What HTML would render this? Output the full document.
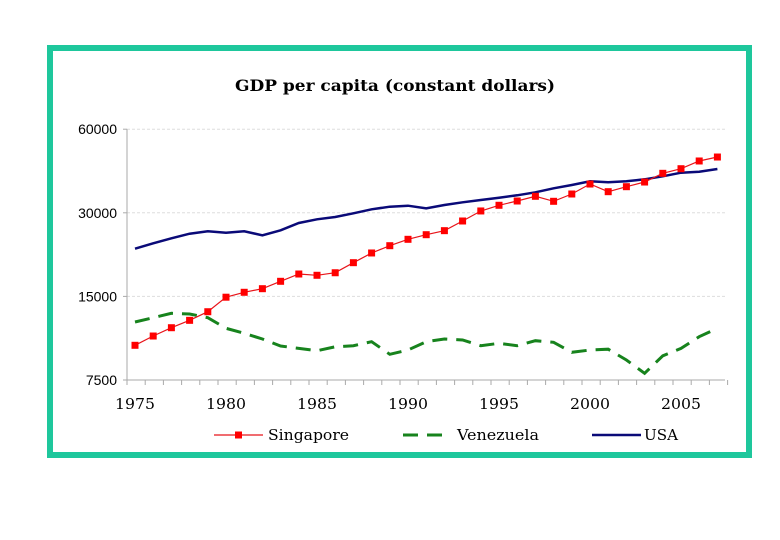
<!DOCTYPE html>
<html><head><meta charset="utf-8"><style>
body{margin:0;background:#fff;width:780px;height:540px;overflow:hidden}
svg{display:block}
</style></head><body>
<svg id="chart" width="780" height="540" xmlns="http://www.w3.org/2000/svg">
<rect x="50" y="48" width="699" height="407" fill="#fff" stroke="#1ec79c" stroke-width="6"/>
<text x="395" y="91" text-anchor="middle" font-family="DejaVu Serif, serif" font-weight="bold" font-size="16" textLength="320" lengthAdjust="spacingAndGlyphs">GDP per capita (constant dollars)</text>
<g id="grid"></g><g id="axes"></g><g id="series"></g>
<g font-family="DejaVu Serif, serif" font-size="15">
<g><line x1="214" y1="435" x2="263" y2="435" stroke="#e8141a" stroke-width="1.2"/><rect x="235" y="431.5" width="7" height="7" fill="#f00"/><text x="268" y="440" textLength="81" lengthAdjust="spacingAndGlyphs">Singapore</text></g>
<g><line x1="403" y1="435" x2="447" y2="435" stroke="#17831d" stroke-width="3" stroke-dasharray="15,9"/><text x="457" y="440" textLength="82" lengthAdjust="spacingAndGlyphs">Venezuela</text></g>
<g><line x1="592" y1="435" x2="641" y2="435" stroke="#0a0a78" stroke-width="2.5"/><text x="644" y="440" textLength="34" lengthAdjust="spacingAndGlyphs">USA</text></g>
</g>
</svg>
<script>
const years=[1975,1976,1977,1978,1979,1980,1981,1982,1983,1984,1985,1986,1987,1988,1989,1990,1991,1992,1993,1994,1995,1996,1997,1998,1999,2000,2001,2002,2003,2004,2005,2006,2007];
const singapore=[10000,10800,11570,12300,13210,14900,15520,15990,17000,18060,17870,18250,19840,21500,22840,24080,25020,25870,28030,30460,31930,33080,34400,33000,35060,38080,35740,37250,38720,41620,43240,46100,47640];
const venezuela=[12130,12570,13040,12960,12570,11510,11050,10540,9940,9750,9560,9880,9970,10300,9280,9620,10300,10540,10450,9970,10170,9970,10390,10250,9440,9620,9680,8850,7930,9170,9750,10740,11510];
const usa=[22280,23300,24290,25230,25730,25430,25730,24890,25950,27570,28420,28980,29880,30890,31560,31820,31140,32000,32730,33360,34000,34680,35560,36760,37780,38950,38630,38950,39600,40600,41840,42180,43140];
const yTicks=[7500,15000,30000,60000];
const xLabels=[1975,1980,1985,1990,1995,2000,2005];
const NS='http://www.w3.org/2000/svg';
const X0=135,DX=18.2,Y0=380,PD=83.6,AX=127,AR=725;
const xs=y=>X0+(y-1975)*DX;
const ys=v=>Y0-Math.log2(v/7500)*PD;
function mk(t,a,p){const e=document.createElementNS(NS,t);for(const k in a)e.setAttribute(k,a[k]);p.appendChild(e);return e;}
const grid=document.getElementById('grid'),axes=document.getElementById('axes'),ser=document.getElementById('series');
yTicks.forEach(v=>{
 const y=ys(v);
 if(v>7500){const g=mk('line',{x1:AX,x2:AR,y1:y,y2:y,stroke:'#ddd','stroke-dasharray':'3,2'},grid);
 
 }
 mk('line',{x1:AX-4,x2:AX,y1:y,y2:y,stroke:'#aaa'},axes);
 const t=mk('text',{x:AX-10,y:y+5,'text-anchor':'end','font-family':'Liberation Sans, sans-serif','font-size':'14'},axes);
 t.textContent=v;
 
 
});
mk('line',{x1:AX,x2:AX,y1:ys(60000),y2:Y0,stroke:'#aaa'},axes);
mk('line',{x1:AX,x2:AR,y1:Y0,y2:Y0,stroke:'#aaa'},axes);
for(let i=0;i<=years.length;i++){const x=AX+i*DX;mk('line',{x1:x,x2:x,y1:Y0,y2:Y0+5,stroke:'#aaa'},axes);}
xLabels.forEach(yr=>{
 const t=mk('text',{x:xs(yr),y:Y0+29,'text-anchor':'middle','font-family':'DejaVu Serif, serif','font-size':'15','textLength':'40','lengthAdjust':'spacingAndGlyphs'},axes);
 t.textContent=yr;
 
 
});
function pts(arr){return arr.map((v,i)=>xs(years[i]).toFixed(1)+','+ys(v).toFixed(1)).join(' ');}
const u=mk('polyline',{points:pts(usa),fill:'none',stroke:'#0a0a78','stroke-width':'2.5'},ser);


const v=mk('polyline',{points:pts(venezuela),fill:'none',stroke:'#17831d','stroke-width':'3','stroke-dasharray':'15,9'},ser);


const s=mk('polyline',{points:pts(singapore),fill:'none',stroke:'#e8141a','stroke-width':'1.2'},ser);


singapore.forEach((val,i)=>{
 const r=mk('rect',{x:xs(years[i])-3.5,y:ys(val)-3.5,width:7,height:7,fill:'#f00'},ser);
 
 
});
</script>
</body></html>
